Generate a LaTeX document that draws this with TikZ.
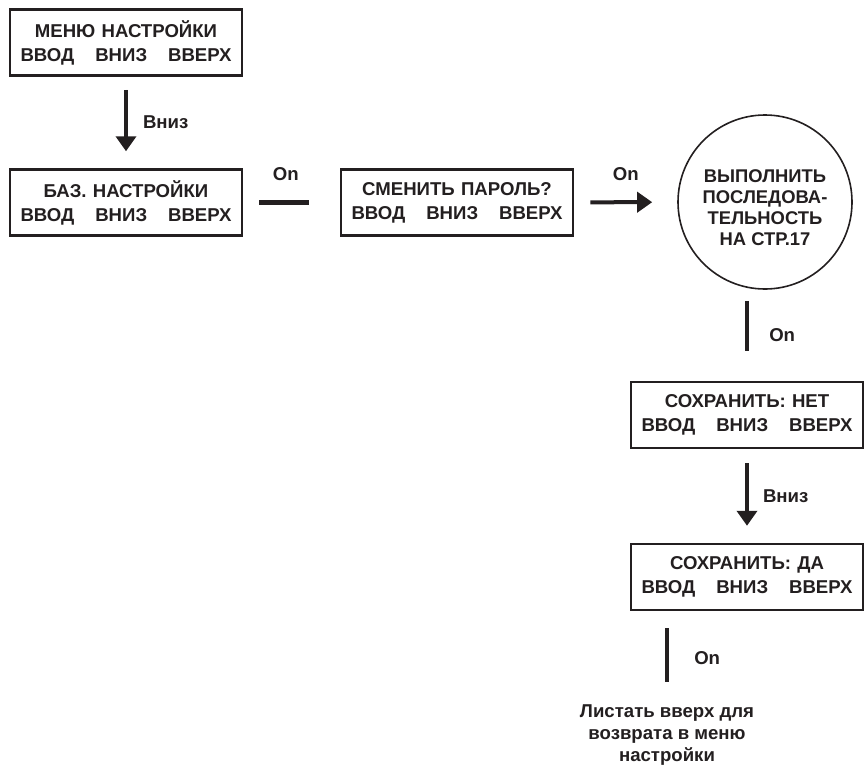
\documentclass[tikz,border=0pt]{standalone}
\usepackage{fontspec}
\setmainfont{Liberation Sans}
\usetikzlibrary{arrows.meta}
\definecolor{ink}{RGB}{35,31,32}
\begin{document}
\begin{tikzpicture}[x = 1pt, y = -1pt, > = {Triangle[length=15pt,width=20pt]},
		every node/.style = {text = ink, inner sep = 0pt, font = \bfseries\fontsize{18.6}{24}\selectfont},
		box/.style = {draw = ink, line width = 2.5pt, minimum width = 232pt, minimum height = 66pt, text width = 211pt, align = center},
		bubble/.style = {draw = ink, line width = 1.6pt, circle, minimum size = 174pt, align = center, font = \bfseries\fontsize{18.4}{21}\selectfont},
		line/.style = {draw = ink, line width = 4.5pt},
		arr/.style = {draw = ink, fill = ink, line width = 4pt, ->}]
	\useasboundingbox (0,0) rectangle (864,766);
	% Các ô menu
	\node[box] (menu) at (126,42.5) {МЕНЮ НАСТРОЙКИ\\ВВОД\hfill ВНИЗ\hfill ВВЕРХ};
	\node[box] (base) at (126,202.5) {БАЗ. НАСТРОЙКИ\\ВВОД\hfill ВНИЗ\hfill ВВЕРХ};
	\node[box] (pass) at (457,202.5) {СМЕНИТЬ ПАРОЛЬ?\\ВВОД\hfill ВНИЗ\hfill ВВЕРХ};
	\node[bubble] (seq) at (765,202) {\rule{0pt}{25pt}ВЫПОЛНИТЬ\\ПОСЛЕДОВА-\\ТЕЛЬНОСТЬ\\НА СТР.17};
	\node[box] (no) at (747,415) {СОХРАНИТЬ: НЕТ\\ВВОД\hfill ВНИЗ\hfill ВВЕРХ};
	\node[box] (yes) at (747,577) {СОХРАНИТЬ: ДА\\ВВОД\hfill ВНИЗ\hfill ВВЕРХ};
	\node[align = center, font = \bfseries\fontsize{18.6}{22}\selectfont] (back) at (667,735) {Листать вверх для\\возврата в меню\\настройки};
	% Các mũi tên
	\draw[arr, shorten < = 13pt, shorten > = 17pt] (menu) -- (base) node[midway, right = 15pt]{Вниз};
	\draw[line, shorten < = 16pt, shorten > = 31pt] (base) -- (pass) node[pos = 0.44, above = 20pt]{On};
	\draw[arr, shorten < = 16pt, shorten > = 25pt] (pass) -- (seq) node[midway, above = 20pt]{On};
	\draw[line, shorten < = 11pt, shorten > = 30pt] (seq.south -| no.north) -- (no.north) node[midway, right = 20pt]{On};
	\draw[arr, shorten < = 14pt, shorten > = 17pt] (no) -- (yes) node[midway, right = 14pt]{Вниз};
	\draw[line, shorten < = 17pt, shorten > = 22pt] (yes.south -| back.north) -- (back.north) node[midway, right = 25pt]{On};
\end{tikzpicture}
\end{document}
